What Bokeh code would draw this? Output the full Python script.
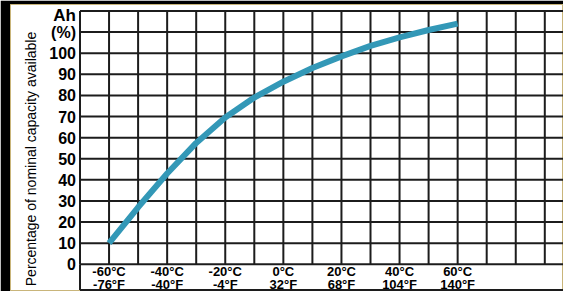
import math
from bokeh.plotting import figure
from bokeh.models import Range1d
from bokeh.embed import file_html
from bokeh.resources import INLINE
from bokeh.core.properties import value

# ---- data ----
temps_c = [-60, -50, -40, -30, -20, -10, 0, 10, 20, 30, 40, 50, 60]
capacity = [10, 27, 43, 57.5, 69.5, 79, 86.5, 93, 98.5, 103.5, 107.5, 111, 114]

label_temps = [-60, -40, -20, 0, 20, 40, 60]
label_texts = ["-60°C\n-76°F", "-40°C\n-40°F", "-20°C\n-4°F", "0°C\n32°F",
               "20°C\n68°F", "40°C\n104°F", "60°C\n140°F"]

y_ticks = [0, 10, 20, 30, 40, 50, 60, 70, 80, 90, 100, 110]
y_tick_labels = ["0", "10", "20", "30", "40", "50", "60", "70", "80", "90", "100", "(%)"]
unit_tick = 120
unit_label = "Ah"
y_title = "Percentage of nominal capacity available"

grid_x = [-70, -60, -50, -40, -30, -20, -10, 0, 10, 20, 30, 40, 50, 60, 70, 80, 90]
grid_y = [0, 10, 20, 30, 40, 50, 60, 70, 80, 90, 100, 110, 120]

# ---- layout / style ----
FONT = "Liberation Sans"
GRID = "#1c1c1c"
CURVE = "#3398b7"
W, H = 563, 291
LEFT, TOP = 10, 4
PX_X = 2.905          # pixels per degree C
PX_Y = 2.111          # pixels per percent
X0_PIX, Y0_PIX = 79.5, 263.8   # page pixels of (-70 C, 0 %)

x_start = grid_x[0] - (X0_PIX - LEFT) / PX_X
x_end = grid_x[0] + (W - X0_PIX) / PX_X
y_end = (Y0_PIX - TOP) / PX_Y
y_start = -(H - Y0_PIX) / PX_Y
y_bottom_line = -(289.5 - Y0_PIX) / PX_Y

p = figure(width=W, height=H,
           x_range=Range1d(x_start, x_end), y_range=Range1d(y_start, y_end),
           output_backend="svg", toolbar_location=None,
           min_border_left=LEFT, min_border_right=0,
           min_border_top=TOP, min_border_bottom=0)

p.background_fill_color = "white"
p.border_fill_color = "black"
p.outline_line_color = "#c9b57a"
p.outline_line_width = 1
p.xaxis.visible = False
p.yaxis.visible = False
p.grid.visible = False

# grid
p.segment(x0=grid_x, y0=[grid_y[0]] * len(grid_x),
          x1=grid_x, y1=[grid_y[-1]] * len(grid_x),
          line_color=GRID, line_width=2)
p.segment(x0=[grid_x[0]] * len(grid_y), y0=grid_y,
          x1=[x_end] * len(grid_y), y1=grid_y,
          line_color=GRID, line_width=2)
# left border through the label row, and bottom border
p.segment(x0=[grid_x[0]], y0=[y_bottom_line], x1=[grid_x[0]], y1=[grid_y[0]],
          line_color=GRID, line_width=2)
p.segment(x0=[grid_x[0]], y0=[y_bottom_line], x1=[x_end], y1=[y_bottom_line],
          line_color=GRID, line_width=2)

# curve
p.line(temps_c, capacity, line_width=6, line_color=CURVE,
       line_cap="butt", line_join="round")

# y tick labels
p.text(x=[grid_x[0]] * len(y_ticks), y=y_ticks, text=y_tick_labels,
       x_offset=-4, text_font=value(FONT), text_font_size="16px",
       text_font_style="bold", text_align="right", text_baseline="middle",
       text_color="black")
p.text(x=[grid_x[0]], y=[unit_tick], text=[unit_label],
       x_offset=-4, y_offset=5, text_font=value(FONT), text_font_size="17px",
       text_font_style="bold", text_align="right", text_baseline="middle",
       text_color="black")

# y title
title_x = grid_x[0] - (X0_PIX - 30) / PX_X
title_y = (Y0_PIX - 158.5) / PX_Y
p.text(x=[title_x], y=[title_y], text=[y_title], angle=math.pi / 2,
       text_font=value(FONT), text_font_size="14px", text_font_style="normal",
       text_align="center", text_baseline="middle", text_color="black")

# temperature labels
label_y = -(277.8 - Y0_PIX) / PX_Y
p.text(x=label_temps, y=[label_y] * len(label_temps), text=label_texts,
       text_font=value(FONT), text_font_size="13px", text_font_style="bold",
       text_align="center", text_baseline="middle", text_line_height=0.85,
       text_color="black")

open("out.html", "w", encoding="utf-8").write(file_html(p, INLINE))
